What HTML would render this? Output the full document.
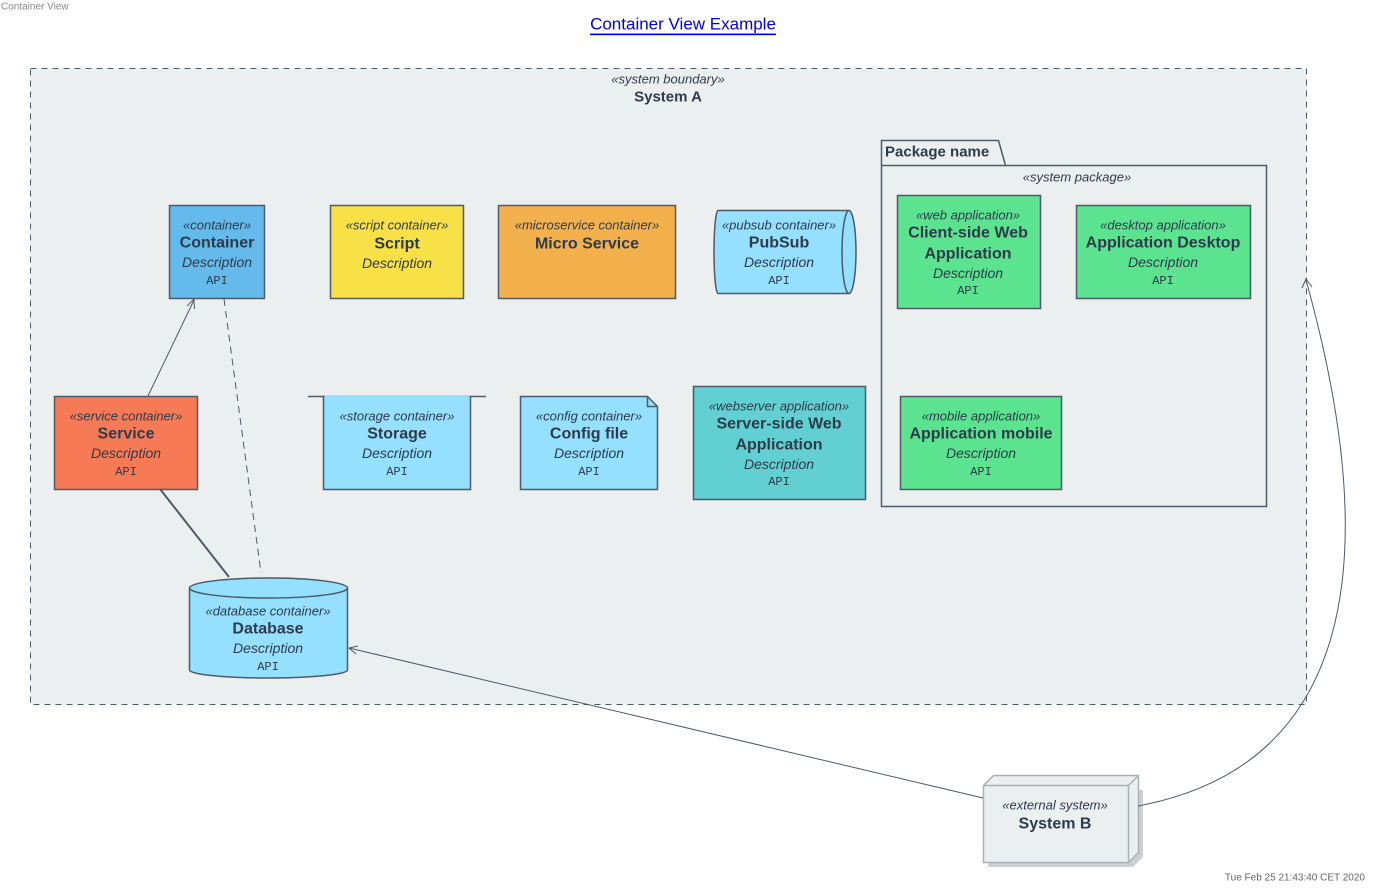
<!DOCTYPE html>
<html><head><meta charset="utf-8"><style>
html,body{margin:0;padding:0;background:#fff;}
svg{display:block;font-family:"Liberation Sans",sans-serif;}
.s{font-style:italic;font-size:13px;fill:#2e3b4b;}
.n{font-weight:bold;font-size:16px;fill:#2e3b4b;}
.d{font-style:italic;font-size:14px;fill:#2e3b4b;}
.a{font-family:"Liberation Mono",monospace;font-size:12px;fill:#2e3b4b;}
text{text-anchor:middle;dominant-baseline:central;}
.b{stroke:#4d5a67;stroke-width:1.5;}
</style></head><body>
<svg width="1377" height="893" viewBox="0 0 1377 893">
<text x="1" y="7" style="text-anchor:start;font-size:10px;fill:#888">Container View</text>
<text x="683" y="24" style="font-size:17px;fill:#0000ee;text-decoration:underline">Container View Example</text>
<text x="1365" y="878" style="text-anchor:end;font-size:10px;fill:#666">Tue Feb 25 21:43:40 CET 2020</text>

<rect x="30.5" y="68.5" width="1276" height="636" fill="#eceff0" stroke="#4d5a67" stroke-dasharray="6,5"/>
<text x="668" y="79" class="s">«system boundary»</text>
<text x="668" y="97" class="n" style="font-size:15px">System A</text>

<path d="M881.5,165.5 V140.5 H998.5 L1005.5,165.5 H1266.5 V506.5 H881.5 Z" fill="none" class="b"/>
<line x1="881" y1="165.5" x2="1005" y2="165.5" class="b"/>
<text x="885" y="152" class="n" style="text-anchor:start;font-size:15px">Package name</text>
<text x="1077" y="177" class="s">«system package»</text>

<rect x="169.5" y="205.5" width="95" height="93" fill="#63baeb" class="b"/>
<text x="217" y="225" class="s">«container»</text><text x="217" y="243" class="n">Container</text><text x="217" y="262" class="d">Description</text><text x="217" y="281" class="a">API</text>
<rect x="330.5" y="205.5" width="133" height="93" fill="#f8e047" class="b"/>
<text x="397" y="225" class="s">«script container»</text><text x="397" y="244" class="n">Script</text><text x="397" y="263" class="d">Description</text>
<rect x="498.5" y="205.5" width="177" height="93" fill="#f2b14c" class="b"/>
<text x="587" y="225" class="s">«microservice container»</text><text x="587" y="244" class="n">Micro Service</text>
<path d="M718,210.5 H849 A7,41.5 0 0 1 849,293.5 H718 A4,41.5 0 0 1 718,210.5 Z" fill="#95dfff" class="b"/>
<path d="M849,210.5 A7,41.5 0 0 0 849,293.5" fill="none" class="b"/>
<text x="779" y="225" class="s">«pubsub container»</text><text x="779" y="243" class="n">PubSub</text><text x="779" y="262" class="d">Description</text><text x="779" y="281" class="a">API</text>
<rect x="54.5" y="396.5" width="143" height="93" fill="#f77a56" class="b"/>
<text x="126" y="416" class="s">«service container»</text><text x="126" y="434" class="n">Service</text><text x="126" y="453" class="d">Description</text><text x="126" y="472" class="a">API</text>
<rect x="323.5" y="396.5" width="147" height="93" fill="#95dfff" class="b"/>
<path d="M308,396.5 H323.5 M470.5,396.5 H486" class="b"/>
<rect x="324.5" y="395" width="145" height="3" fill="#95dfff"/>
<text x="397" y="416" class="s">«storage container»</text><text x="397" y="434" class="n">Storage</text><text x="397" y="453" class="d">Description</text><text x="397" y="472" class="a">API</text>
<path d="M520.5,396.5 H647.5 L657.5,406.5 V489.5 H520.5 Z" fill="#95dfff" class="b"/>
<path d="M647.5,396.5 V406.5 H657.5" fill="none" class="b" stroke-width="1"/>
<text x="589" y="416" class="s">«config container»</text><text x="589" y="434" class="n">Config file</text><text x="589" y="453" class="d">Description</text><text x="589" y="472" class="a">API</text>
<rect x="693.5" y="386.5" width="172" height="113" fill="#62d0d3" class="b"/>
<text x="779" y="406" class="s">«webserver application»</text><text x="779" y="424" class="n">Server-side Web</text><text x="779" y="445" class="n">Application</text><text x="779" y="464" class="d">Description</text><text x="779" y="482" class="a">API</text>
<rect x="897.5" y="195.5" width="143" height="113" fill="#5be38f" class="b"/>
<text x="968" y="215" class="s">«web application»</text><text x="968" y="233" class="n">Client-side Web</text><text x="968" y="254" class="n">Application</text><text x="968" y="273" class="d">Description</text><text x="968" y="291" class="a">API</text>
<rect x="1076.5" y="205.5" width="174" height="93" fill="#5be38f" class="b"/>
<text x="1163" y="225" class="s">«desktop application»</text><text x="1163" y="243" class="n">Application Desktop</text><text x="1163" y="262" class="d">Description</text><text x="1163" y="281" class="a">API</text>
<rect x="900.5" y="396.5" width="161" height="93" fill="#5be38f" class="b"/>
<text x="981" y="416" class="s">«mobile application»</text><text x="981" y="434" class="n">Application mobile</text><text x="981" y="453" class="d">Description</text><text x="981" y="472" class="a">API</text>
<path d="M189.5,588 V670 A79,8 0 0 0 347.5,670 V588 A79,10 0 0 0 189.5,588 Z" fill="#95dfff" class="b"/>
<path d="M189.5,588 A79,10 0 0 0 347.5,588" fill="none" class="b"/>
<text x="268" y="611" class="s">«database container»</text><text x="268" y="629" class="n">Database</text><text x="268" y="648" class="d">Description</text><text x="268" y="667" class="a">API</text>
<path d="M988,790 H1143 V857 L1133,867 H988 Z" fill="#b8bcc0" opacity="0.7"/>
<path d="M983.5,785.5 L993.5,775.5 H1138.5 V852.5 L1128.5,862.5 H983.5 Z" fill="#eceff0" stroke="#a9b0b6" stroke-width="1.5"/>
<path d="M983.5,785.5 H1128.5 V862.5 M1128.5,785.5 L1138.5,775.5" fill="none" stroke="#a9b0b6" stroke-width="1.5"/>
<text x="1055" y="805" class="s">«external system»</text><text x="1055" y="824" class="n">System B</text>

<g stroke="#4d5a67" fill="none" stroke-width="1">
<line x1="148" y1="396" x2="194" y2="300"/>
<path d="M187,306 L194,299 L194.5,309"/>
<line x1="224" y1="299" x2="261" y2="573" stroke-dasharray="7,5"/>
<line x1="160" y1="489" x2="229" y2="577" stroke-width="2"/>
<line x1="983" y1="798" x2="349" y2="648"/>
<path d="M358,646 L349,648 L356,654"/>
<path d="M1138,806 C1330,770 1395,600 1306,280"/>
<path d="M1302,288 L1306,279 L1312,287"/>
</g>
</svg>
</body></html>
